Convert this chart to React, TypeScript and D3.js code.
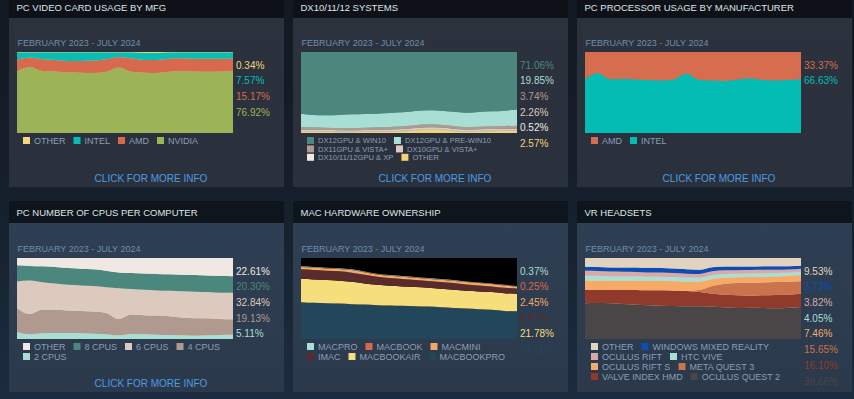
import React from "react";
import * as d3 from "d3";

// Feb 2023 .. Jul 2024, one point per month
const months = [
  "2023-02", "2023-03", "2023-04", "2023-05", "2023-06", "2023-07", "2023-08", "2023-09", "2023-10",
  "2023-11", "2023-12", "2024-01", "2024-02", "2024-03", "2024-04", "2024-05", "2024-06", "2024-07",
];
const dateRange = "FEBRUARY 2023 - JULY 2024";

// PC video card usage by mfg
const gpuOther = [0.3, 0.3, 0.3, 0.3, 0.3, 0.3, 0.3, 0.3, 0.3, 0.3, 0.9, 0.9, 0.3, 0.3, 0.3, 0.3, 0.3, 0.34];
const gpuIntel = [9.5, 6.6, 8.7, 9.5, 10.7, 10.7, 10.3, 8.7, 5.8, 7.5, 8.9, 8.9, 7.9, 7.5, 7.9, 7.9, 7.9, 7.57];
const gpuAmd = [14.2, 11.6, 14.5, 14.2, 14.0, 14.5, 15.4, 15.5, 12.9, 16.7, 15.7, 16.2, 16.3, 15.7, 15.8, 16.3, 15.8, 15.17];
const gpuNvidia = [76.0, 81.5, 76.5, 76.0, 75.0, 74.5, 74.0, 75.5, 81.0, 75.5, 74.5, 74.0, 75.5, 76.5, 76.0, 75.5, 76.0, 76.92];

// DX10/11/12 systems
const dxWin10 = [76.1, 77.8, 78.2, 77.8, 77.0, 76.5, 76.1, 75.3, 74.5, 72.8, 72.0, 72.4, 73.7, 74.9, 74.1, 73.3, 72.4, 71.06];
const dxPreWin10 = [16.5, 15.2, 15.2, 16.0, 16.8, 16.9, 16.9, 17.3, 17.3, 17.7, 17.3, 17.3, 17.7, 17.7, 18.1, 18.5, 19.0, 19.85];
const dx11 = [3.3, 3.1, 3.0, 2.8, 2.8, 2.9, 3.0, 3.1, 3.2, 3.4, 3.5, 3.5, 3.2, 3.0, 3.1, 3.2, 3.4, 3.74];
const dx10 = [2.0, 2.0, 1.9, 1.8, 1.8, 1.9, 2.0, 2.1, 2.2, 2.3, 2.4, 2.4, 2.3, 2.1, 2.2, 2.3, 2.3, 2.26];
const dxXp = [0.6, 0.6, 0.6, 0.6, 0.6, 0.6, 0.6, 0.6, 0.6, 0.6, 0.6, 0.6, 0.5, 0.5, 0.5, 0.5, 0.5, 0.52];
const dxOther = [1.5, 1.3, 1.1, 1.0, 1.0, 1.2, 1.4, 1.6, 2.2, 3.2, 4.2, 3.8, 2.6, 1.8, 2.0, 2.2, 2.4, 2.57];

// PC processor usage by manufacturer
const cpuAmd = [33.7, 26.0, 33.5, 33.2, 33.5, 34.6, 35.0, 33.5, 26.5, 34.5, 35.0, 35.5, 33.8, 32.5, 34.5, 34.8, 34.5, 33.37];
const cpuIntel = [66.3, 74.0, 66.5, 66.8, 66.5, 65.4, 65.0, 66.5, 73.5, 65.5, 65.0, 64.5, 66.2, 67.5, 65.5, 65.2, 65.5, 66.63];

// PC number of CPUs per computer
const coresOther = [9.1, 9.9, 10.3, 11.2, 12.4, 13.2, 14.0, 15.7, 17.8, 18.6, 19.0, 19.8, 20.2, 20.7, 21.1, 21.5, 21.9, 22.61];
const cores8 = [19.8, 17.8, 19.5, 20.2, 20.7, 20.7, 20.7, 20.3, 19.4, 19.8, 20.3, 20.3, 20.3, 20.2, 20.6, 20.6, 21.1, 20.30];
const cores6 = [33.1, 41.3, 33.8, 32.6, 31.8, 31.4, 31.4, 31.8, 38.0, 31.4, 31.4, 31.0, 31.4, 32.7, 32.7, 32.3, 32.2, 32.84];
const cores4 = [29.7, 25.2, 29.4, 28.6, 27.7, 27.7, 27.3, 26.4, 20.3, 24.0, 23.5, 23.5, 23.1, 21.9, 21.5, 21.1, 19.8, 19.13];
const cores2 = [8.3, 5.8, 7.0, 7.4, 7.4, 7.0, 6.6, 5.8, 4.5, 6.2, 5.8, 5.4, 5.0, 4.5, 4.1, 4.5, 5.0, 5.11];

// Mac hardware ownership
const macPro = [0.4, 0.4, 0.4, 0.4, 0.4, 0.4, 0.4, 0.4, 0.4, 0.4, 0.4, 0.4, 0.4, 0.4, 0.4, 0.4, 0.4, 0.37];
const macBook = [0.5, 0.5, 0.5, 0.5, 0.5, 0.5, 0.4, 0.4, 0.4, 0.4, 0.4, 0.4, 0.3, 0.3, 0.3, 0.3, 0.3, 0.25];
const macMini = [2.8, 2.8, 2.8, 2.8, 3.2, 3.2, 2.9, 2.9, 2.9, 2.9, 2.9, 2.9, 3.0, 3.0, 3.0, 3.0, 3.0, 2.45];
const macImac = [11.6, 11.6, 11.6, 11.6, 11.2, 10.7, 9.9, 9.5, 9.1, 8.7, 8.3, 8.3, 8.3, 7.9, 7.4, 7.0, 6.6, 6.47];
const macAir = [28.9, 28.9, 28.5, 28.1, 27.7, 26.0, 25.2, 24.4, 24.0, 23.6, 23.1, 22.7, 22.3, 21.9, 21.9, 21.9, 21.9, 21.78];
const macBookPro = [45.5, 44.6, 44.2, 43.8, 43.0, 42.6, 41.7, 41.3, 40.9, 40.5, 40.1, 39.3, 38.4, 37.6, 36.8, 36.0, 34.7, 34.11];

// VR headsets
const vrOther = [10.8, 11.0, 11.6, 11.6, 11.6, 12.0, 12.2, 13.0, 13.9, 14.6, 11.5, 10.6, 10.6, 10.6, 10.3, 10.2, 10.1, 9.53];
const vrWmr = [5.0, 5.0, 5.2, 5.4, 5.6, 5.8, 5.8, 5.6, 5.4, 5.0, 4.8, 4.6, 4.4, 4.2, 4.3, 4.3, 4.0, 3.73];
const vrRift = [6.0, 6.0, 5.8, 5.6, 5.4, 5.2, 5.0, 5.0, 4.8, 4.6, 4.6, 4.4, 4.3, 4.2, 4.1, 4.0, 3.9, 3.82];
const vrVive = [6.2, 6.0, 5.8, 5.8, 5.6, 5.4, 5.4, 5.2, 5.2, 5.0, 5.0, 4.8, 4.6, 4.5, 4.4, 4.2, 4.1, 4.05];
const vrRiftS = [11.1, 11.1, 11.1, 11.1, 11.3, 11.5, 11.5, 11.5, 11.1, 10.3, 8.6, 7.4, 7.0, 7.0, 7.0, 7.0, 7.2, 7.46];
const vrQuest3 = [0, 0, 0, 0, 0, 0, 0, 0, 0.3, 2.5, 9.5, 13.5, 15.2, 16.0, 16.0, 16.0, 16.0, 15.65];
const vrIndex = [16.9, 16.5, 16.5, 17.3, 18.1, 18.5, 18.9, 18.9, 19.0, 17.7, 16.1, 15.6, 15.6, 14.8, 15.6, 16.4, 16.0, 16.10];
const vrQuest2 = [44.0, 44.4, 44.0, 43.2, 42.4, 41.6, 41.2, 40.8, 40.3, 40.3, 39.9, 39.1, 38.3, 38.7, 38.3, 37.9, 38.7, 39.66];

type Series = { name: string; color: string; values: number[] };
type Panel = { title: string; series: Series[]; legendSize: number; rowGap: number; more: boolean; chartBg?: string };

// series listed top-to-bottom, as in the legend
const panels: Panel[] = [
  {
    title: "PC VIDEO CARD USAGE BY MFG", legendSize: 9, rowGap: 10, more: true,
    series: [
      { name: "OTHER", color: "#f5d67b", values: gpuOther },
      { name: "INTEL", color: "#08bdb4", values: gpuIntel },
      { name: "AMD", color: "#d76a4e", values: gpuAmd },
      { name: "NVIDIA", color: "#9db357", values: gpuNvidia },
    ],
  },
  {
    title: "DX10/11/12 SYSTEMS", legendSize: 7.6, rowGap: 8.4, more: true,
    series: [
      { name: "DX12GPU & WIN10", color: "#4b877d", values: dxWin10 },
      { name: "DX12GPU & PRE-WIN10", color: "#a8ded4", values: dxPreWin10 },
      { name: "DX11GPU & VISTA+", color: "#b09a8f", values: dx11 },
      { name: "DX10GPU & VISTA+", color: "#dccabe", values: dx10 },
      { name: "DX10/11/12GPU & XP", color: "#efe9e4", values: dxXp },
      { name: "OTHER", color: "#f5d272", values: dxOther },
    ],
  },
  {
    title: "PC PROCESSOR USAGE BY MANUFACTURER", legendSize: 9, rowGap: 10, more: true,
    series: [
      { name: "AMD", color: "#d76d4f", values: cpuAmd },
      { name: "INTEL", color: "#03bdb5", values: cpuIntel },
    ],
  },
  {
    title: "PC NUMBER OF CPUS PER COMPUTER", legendSize: 9, rowGap: 10, more: true,
    series: [
      { name: "OTHER", color: "#efe8e3", values: coresOther },
      { name: "8 CPUS", color: "#4b877d", values: cores8 },
      { name: "6 CPUS", color: "#dccabe", values: cores6 },
      { name: "4 CPUS", color: "#b09a8f", values: cores4 },
      { name: "2 CPUS", color: "#a8ded4", values: cores2 },
    ],
  },
  {
    title: "MAC HARDWARE OWNERSHIP", legendSize: 9, rowGap: 10, more: false, chartBg: "#000000",
    series: [
      { name: "MACPRO", color: "#a8ded4", values: macPro },
      { name: "MACBOOK", color: "#d76a4e", values: macBook },
      { name: "MACMINI", color: "#f5a863", values: macMini },
      { name: "IMAC", color: "#5a2b2d", values: macImac },
      { name: "MACBOOKAIR", color: "#f6de7c", values: macAir },
      { name: "MACBOOKPRO", color: "#22475a", values: macBookPro },
    ],
  },
  {
    title: "VR HEADSETS", legendSize: 9, rowGap: 10, more: false,
    series: [
      { name: "OTHER", color: "#e2d3c0", values: vrOther },
      { name: "WINDOWS MIXED REALITY", color: "#0b4db5", values: vrWmr },
      { name: "OCULUS RIFT", color: "#dba8a8", values: vrRift },
      { name: "HTC VIVE", color: "#a8ded4", values: vrVive },
      { name: "OCULUS RIFT S", color: "#f7aa65", values: vrRiftS },
      { name: "META QUEST 3", color: "#c9744c", values: vrQuest3 },
      { name: "VALVE INDEX HMD", color: "#8f3a2b", values: vrIndex },
      { name: "OCULUS QUEST 2", color: "#4a4546", values: vrQuest2 },
    ],
  },
];

const FONT = "'Liberation Sans', Arial, sans-serif";
const PANEL_X = [9, 293, 577];
const PANEL_W = 275;
const ROWS = [
  { barY: -4, barH: 22, bodyY: 18, bodyH: 169, chartY: 52 },
  { barY: 201, barH: 22, bodyY: 223, bodyH: 169, chartY: 258 },
];
const CHART_W = 216;
const CHART_H = 81;

const ctx = typeof document !== "undefined" ? document.createElement("canvas").getContext("2d") : null;
const textW = (s: string, size: number) => {
  if (!ctx) return s.length * size * 0.6;
  ctx.font = `${size}px 'Liberation Sans'`;
  return ctx.measureText(s).width;
};

const StackPanel = ({ panel, px, row, idx }: { panel: Panel; px: number; row: typeof ROWS[0]; idx: number }) => {
  const cx = px + 8;
  const cy = row.chartY;
  const x = d3.scalePoint<string>().domain(months).range([0, CHART_W]);
  const y = d3.scaleLinear().domain([0, 100]).range([CHART_H, 0]);

  const rows = months.map((m, i) => {
    const r: any = { month: m };
    panel.series.forEach((s) => (r[s.name] = s.values[i]));
    return r;
  });
  const bottomUp = [...panel.series].reverse();
  const stacked = d3.stack<any>().keys(bottomUp.map((s) => s.name))(rows);
  const area = d3
    .area<any>()
    .x((d) => x(d.data.month) as number)
    .y0((d) => y(d[0]))
    .y1((d) => y(d[1]))
    .curve(d3.curveMonotoneX);

  // legend flow layout
  const maxX = cx + CHART_W;
  let lx = px + 14;
  let lr = 0;
  const legend = panel.series.map((s) => {
    const w = 11 + textW(s.name, panel.legendSize);
    if (lx + w > maxX && lx > px + 14) {
      lx = px + 14;
      lr += 1;
    }
    const item = { s, x: lx, r: lr };
    lx += w + 8;
    return item;
  });

  const clipId = `clip${idx}`;
  return (
    <g>
      <rect x={px} y={row.barY} width={PANEL_W} height={row.barH} fill={idx < 3 ? "#0e1218" : "#0f151d"} />
      <text x={px + 7.5} y={row.barY + row.barH - 7.5} fontSize={9.5} fill="#dfe3e6" fontFamily={FONT}>
        {panel.title}
      </text>
      <rect x={px} y={row.bodyY} width={PANEL_W} height={row.bodyH} fill={`url(#body${idx < 3 ? 0 : 1})`} />
      <text x={cx + 0.5} y={cy - 6} fontSize={9} fill="#6d8dab" fontFamily={FONT}>
        {dateRange}
      </text>
      <clipPath id={clipId}>
        <rect x={0} y={0} width={CHART_W} height={CHART_H} />
      </clipPath>
      <g transform={`translate(${cx},${cy})`} clipPath={`url(#${clipId})`}>
        <rect width={CHART_W} height={CHART_H} fill={panel.chartBg ?? panel.series[0].color} />
        {stacked.map((layer, i) => (
          <path key={i} d={area(layer) as string} fill={bottomUp[i].color} />
        ))}
      </g>
      {panel.series.map((s, i) => (
        <text
          key={s.name + i}
          x={cx + CHART_W + 3}
          y={cy + 13 + i * 15.7 + 3.6}
          fontSize={10}
          fill={s.color}
          fontFamily={FONT}
        >
          {s.values[s.values.length - 1].toFixed(2)}%
        </text>
      ))}
      {legend.map(({ s, x: lx2, r }, i) => {
        const mid = cy + CHART_H + 7.5 + r * panel.rowGap;
        return (
          <g key={i}>
            <rect x={lx2} y={mid - 3.5} width={7} height={7} fill={s.color} />
            <text x={lx2 + 11} y={mid + panel.legendSize * 0.36} fontSize={panel.legendSize} fill="#8a9fb5" fontFamily={FONT}>
              {s.name}
            </text>
          </g>
        );
      })}
      {panel.more && (
        <text x={px + 142} y={row.bodyY + 163.6} fontSize={10} fill="#4c9be3" textAnchor="middle" fontFamily={FONT}>
          CLICK FOR MORE INFO
        </text>
      )}
    </g>
  );
};

const App = () => {
  const width = 854;
  const height = 399;
  return (
    <div>
      <style>{`body{margin:0;background:#161f2b;}`}</style>
      <svg width={width} height={height} style={{ display: "block" }}>
        <defs>
          <linearGradient id="page" x1="0" y1="0" x2="0" y2="1">
            <stop offset="0" stopColor="#121922" />
            <stop offset="0.5" stopColor="#16202c" />
            <stop offset="1" stopColor="#1c2c40" />
          </linearGradient>
          <linearGradient id="body0" x1="0" y1="0" x2="0" y2="1">
            <stop offset="0" stopColor="#2b323e" />
            <stop offset="1" stopColor="#2a313d" />
          </linearGradient>
          <linearGradient id="body1" x1="0" y1="0" x2="0" y2="1">
            <stop offset="0" stopColor="#2f3f53" />
            <stop offset="1" stopColor="#2b394b" />
          </linearGradient>
        </defs>
        <rect width={width} height={height} fill="url(#page)" />
        {panels.map((p, i) => (
          <StackPanel key={i} panel={p} px={PANEL_X[i % 3]} row={ROWS[Math.floor(i / 3)]} idx={i} />
        ))}
      </svg>
    </div>
  );
};

export default App;
